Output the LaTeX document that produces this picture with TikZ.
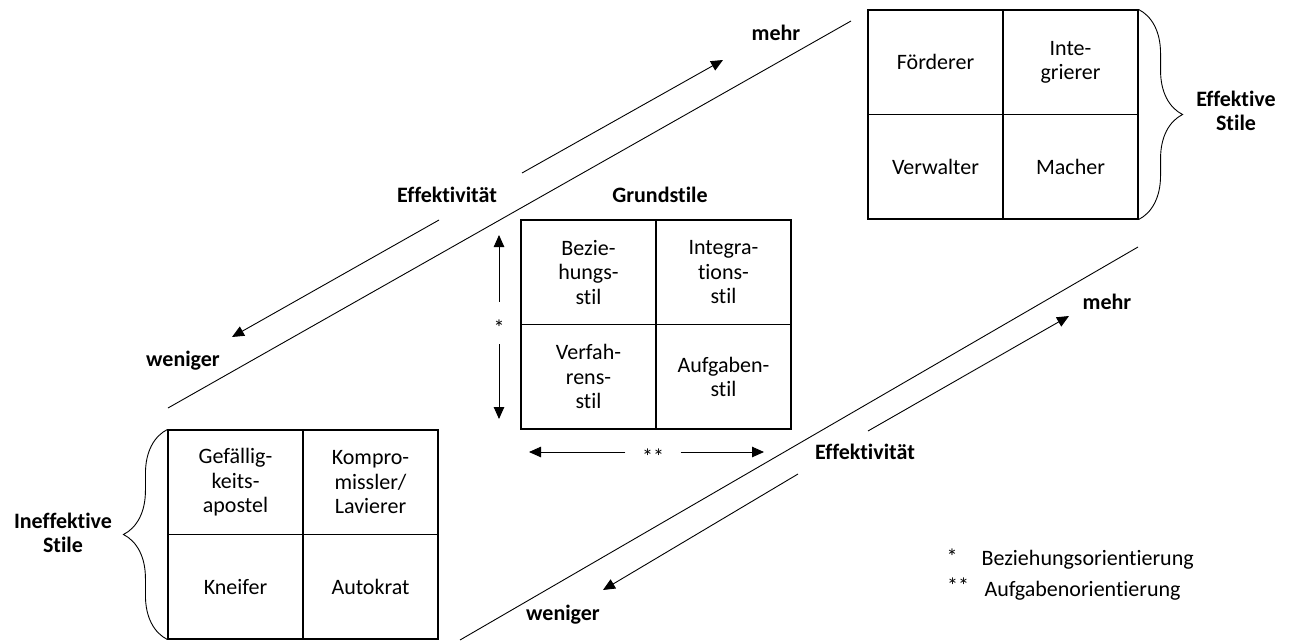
\documentclass[tikz,border=0pt]{standalone}
\usepackage{fontspec}
\setmainfont{Carlito}[Ligatures=NoCommon]
\usetikzlibrary{arrows.meta}
\usetikzlibrary{decorations.pathreplacing}

\begin{document}
\begin{tikzpicture}[x=1pt,y=-1pt,font=\fontsize{22}{24.5}\selectfont]
    \tikzstyle{e} = [draw, line width=0.9pt, -{Triangle[length=12pt,width=10.5pt]}]
    \tikzstyle{cell} = [draw, line width=1.1pt, minimum width=135pt, minimum height=104.5pt, align=center, inner sep=0pt]
    \tikzstyle{lbl} = [font=\fontsize{22}{24.5}\selectfont\bfseries, align=center]
    \tikzstyle{diag} = [draw, line width=0.9pt]
    \tikzstyle{br} = [draw, line width=0.9pt, decorate, decoration={brace, amplitude=44pt}]
    \tikzstyle{stern} = [inner sep=0pt, text height=24pt, text depth=0pt]
    \useasboundingbox (0,0) rectangle (1293,640);
    \begin{scope}
        \node[cell] (foerderer) at (935.5,62.25) {Förderer};
        \node[cell] (integrierer) at (1070.5,62.25) {Inte-\\grierer};
        \node[cell] (verwalter) at (935.5,166.75) {Verwalter};
        \node[cell] (macher) at (1070.5,166.75) {Macher};
        \draw[br] (integrierer.north east) -- (macher.south east);
        \node[lbl] (effektiv) at (1236,111) {Effektive\\Stile};
    \end{scope}
    \begin{scope}
        \node[lbl] (grundstile) at (660,195) {Grundstile};
        \node[cell] (beziehung) at (588.5,272.25) {Bezie-\\hungs-\\stil};
        \node[cell] (integration) at (723.5,272.25) {Integra-\\tions-\\stil};
        \node[cell] (verfahren) at (588.5,376.75) {Verfah-\\rens-\\stil};
        \node[cell] (aufgaben) at (723.5,376.75) {Aufgaben-\\stil};
        \node[stern, minimum height=42pt] (s1) at (499,323) {*};
        \coordinate (s1top) at (499,235);
        \coordinate (s1bot) at (499,419);
        \draw[e] (s1) -- (s1top);
        \draw[e] (s1) -- (s1bot);
        \node[stern, minimum width=55pt] (s2) at (653,452) {**};
        \coordinate (s2left) at (529,452);
        \coordinate (s2right) at (764,452);
        \draw[e] (s2) -- (s2left);
        \draw[e] (s2) -- (s2right);
    \end{scope}
    \begin{scope}
        \node[cell] (gefaellig) at (235.5,482.25) {Gefällig-\\keits-\\apostel};
        \node[cell] (kompromiss) at (370.5,482.25) {Kompro-\\missler/\\Lavierer};
        \node[cell] (kneifer) at (235.5,586.75) {Kneifer};
        \node[cell] (autokrat) at (370.5,586.75) {Autokrat};
        \draw[br] (kneifer.south west) -- (gefaellig.north west);
        \node[lbl] (ineffektiv) at (63,533) {Ineffektive\\Stile};
    \end{scope}
    \begin{scope}
        \coordinate (u1) at (168,408);
        \coordinate (u2) at (851,21);
        \draw[diag] (u1) -- (u2);
        \coordinate (ua1) at (522,173);
        \coordinate (ua2) at (723,60);
        \coordinate (ub1) at (439,220);
        \coordinate (ub2) at (232,337);
        \draw[e] (ua1) -- (ua2);
        \draw[e] (ub1) -- (ub2);
        \node[lbl] (mehr1) at (776,33) {mehr};
        \node[lbl] (eff1) at (447,195) {Effektivität};
        \node[lbl] (weniger1) at (183,361) {weniger};
    \end{scope}
    \begin{scope}
        \coordinate (l1) at (460,640);
        \coordinate (l2) at (1138,247);
        \draw[diag] (l1) -- (l2);
        \coordinate (la1) at (868,431);
        \coordinate (la2) at (1069,316);
        \coordinate (lb1) at (798,474);
        \coordinate (lb2) at (603,590);
        \draw[e] (la1) -- (la2);
        \draw[e] (lb1) -- (lb2);
        \node[lbl] (mehr2) at (1107,302) {mehr};
        \node[lbl] (eff2) at (865,452) {Effektivität};
        \node[lbl] (weniger2) at (563,615) {weniger};
    \end{scope}
    \node (stern1) at (952,557) {*};
    \node[anchor=west] (legende1) at (978,560) {Beziehungsorientierung};
    \node (stern2) at (958,586) {**};
    \node[anchor=west] (legende2) at (981,591) {Aufgabenorientierung};
\end{tikzpicture}
\end{document}
